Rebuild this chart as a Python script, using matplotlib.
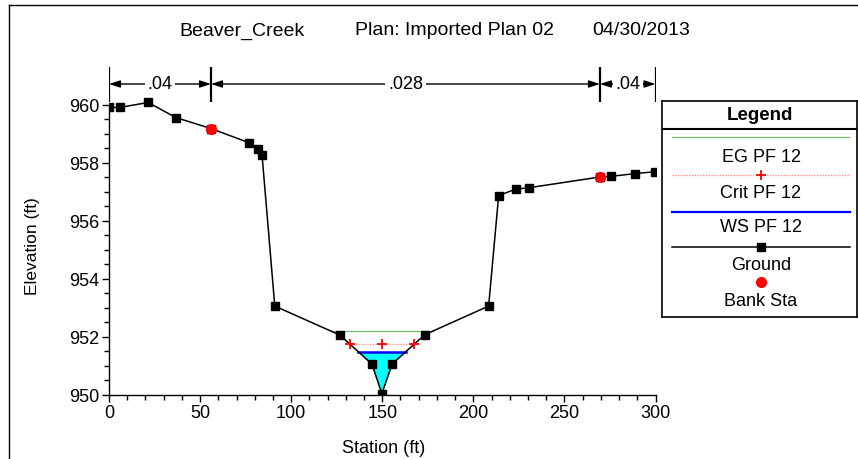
import numpy as np
import matplotlib
matplotlib.use('Agg')
import matplotlib.pyplot as plt
from matplotlib.lines import Line2D
from matplotlib.ticker import MultipleLocator, FixedLocator

plt.rcParams['font.family'] = ['Liberation Sans', 'DejaVu Sans']

# ---------------- data ----------------
station = [0.0, 6.0, 21.5, 36.7, 56.0, 77.0, 81.7, 84.0, 91.0, 126.7, 144.3,
           149.8, 155.4, 173.3, 208.4, 213.9, 223.2, 230.5, 269.5, 275.3,
           289.0, 299.5]
elevation = [959.9, 959.9, 960.07, 959.55, 959.17, 958.68, 958.47, 958.27,
             953.05, 952.05, 951.05, 950.03, 951.05, 952.06, 953.05, 956.86,
             957.08, 957.13, 957.5, 957.52, 957.62, 957.68]
bank_station = [56.0, 269.5]
bank_elev = [959.17, 957.5]
ws_elev = 951.47
crit_elev = 951.73
eg_elev = 952.2
n_bounds = [0.0, 56.0, 269.5, 300.0]
n_values = ['.04', '.028', '.04']
title_parts = ['Beaver_Creek', 'Plan: Imported Plan 02', '04/30/2013']
legend_labels = ['EG PF 12', 'Crit PF 12', 'WS PF 12', 'Ground', 'Bank Sta']

W, H = 858, 460
fig = plt.figure(figsize=(W / 100, H / 100), dpi=100)


def fx(px):
    return px / W


def fy(py):
    return 1 - py / H


ax_l, ax_r, ax_b, ax_t = 109, 655.5, 395.5, 67
ax = fig.add_axes([fx(ax_l), fy(ax_b), (ax_r - ax_l) / W, (ax_b - ax_t) / H])
ax.set_xlim(0, 300)
ax.set_ylim(950, 950 + (ax_b - ax_t) / 29.0)

s = np.array(station)
e = np.array(elevation)


def crossings(level):
    i_min = int(np.argmin(e))
    i = i_min
    while e[i] < level:
        i -= 1
    xl = np.interp(level, [e[i + 1], e[i]], [s[i + 1], s[i]])
    j = i_min
    while e[j] < level:
        j += 1
    xr = np.interp(level, [e[j - 1], e[j]], [s[j - 1], s[j]])
    return xl, xr, s[i_min]


# water fill
ax.fill_between(s, e, ws_elev, where=e <= ws_elev, interpolate=True,
                color='#00FFFF', lw=0, zorder=1)
wl, wr, _ = crossings(ws_elev)
ax.plot([wl, wr], [ws_elev, ws_elev], color='#0000FF', lw=1.8, zorder=2)
cl, cr, cm = crossings(crit_elev)
ax.plot([cl, cm, cr], [crit_elev] * 3, color='#FF9090', lw=1.0,
        ls=(0, (1, 1)), zorder=2)
ax.plot([cl, cm, cr], [crit_elev] * 3, ls='none', marker='+', color='#FF0000',
        ms=7, mew=1.3, zorder=4)
el, er, _ = crossings(eg_elev)
ax.plot([el, er], [eg_elev, eg_elev], color='#00A000', lw=0.9,
        ls=(0, (1, 0.6)), zorder=2)

# ground
ax.plot(s, e, color='black', lw=1.1, marker='s', ms=5.5, zorder=3)
ax.plot(bank_station, bank_elev, ls='none', marker='o', color='#FF0000',
        ms=7, zorder=5)

# Manning's n annotations
y_arrow = 960 + (105.5 - 85) / 29.0
ax.vlines(n_bounds, 960 + (105.5 - 103) / 29.0, 960 + (105.5 - 68) / 29.0,
          color='black', lw=1.6, zorder=6)
for k, lab in enumerate(n_values):
    b0, b1 = n_bounds[k], n_bounds[k + 1]
    ax.annotate('', xy=(b0, y_arrow), xytext=(b1, y_arrow),
                arrowprops=dict(arrowstyle='<|-|>,head_length=0.55,head_width=0.18',
                                color='black', lw=1.0, shrinkA=0, shrinkB=0,
                                mutation_scale=12), zorder=5)
    ax.text((b0 + b1) / 2, y_arrow, lab, ha='center', va='center', fontsize=13,
            bbox=dict(boxstyle='square,pad=0.15', fc='white', ec='none'),
            zorder=7)

# axes styling
for sp in ['top', 'right']:
    ax.spines[sp].set_visible(False)
for sp in ['left', 'bottom']:
    ax.spines[sp].set_linewidth(1.0)
ax.spines['left'].set_bounds(950, 960)
ax.xaxis.set_major_locator(MultipleLocator(50))
ax.xaxis.set_minor_locator(MultipleLocator(10))
ax.yaxis.set_major_locator(FixedLocator(np.arange(950, 961, 2)))
ax.yaxis.set_minor_locator(FixedLocator(np.arange(950, 960.01, 0.5)))
ax.tick_params(which='major', direction='out', length=5, width=1,
               labelsize=13, pad=2)
ax.tick_params(which='minor', direction='out', length=3.5, width=1)
ax.set_xlabel('Station (ft)', fontsize=13)
ax.set_ylabel('Elevation (ft)', fontsize=12.5)
ax.xaxis.label.set(va='center', ha='center')
ax.yaxis.label.set(va='center', ha='center')
ax.xaxis.set_label_coords((384 - ax_l) / (ax_r - ax_l), (ax_b - 449) / (ax_b - ax_t))
ax.yaxis.set_label_coords((33 - ax_l) / (ax_r - ax_l), (ax_b - 246) / (ax_b - ax_t))

# title
title_x = [179, 355, 592]
for tx, tp in zip(title_x, title_parts):
    fig.text(fx(tx), fy(31), tp, ha='left', va='center', fontsize=14)

# legend box
lg = fig.add_axes([fx(662), fy(318), (857 - 662) / W, (318 - 102) / H])
lg.set_xlim(662, 857)
lg.set_ylim(318, 102)
lg.set_xticks([])
lg.set_yticks([])
for sp in lg.spines.values():
    sp.set_linewidth(1.2)
lg.text(760, 115.5, 'Legend', weight='bold', ha='center', va='center', fontsize=13.5)
lg.axhline(129.5, color='black', lw=1.5)
x0, x1, xm = 672, 850, 761
lg.plot([x0, x1], [138.3, 138.3], color='#00A000', lw=0.9, ls=(0, (1, 0.6)))
lg.plot([x0, x1], [176, 176], color='#FF9090', lw=1.0, ls=(0, (1, 1)))
lg.plot([xm], [176], marker='+', color='#FF0000', ms=7, mew=1.3)
lg.plot([x0, x1], [212.7, 212.7], color='#0000FF', lw=1.6)
lg.plot([x0, x1], [247.7, 247.7], color='black', lw=1.1)
lg.plot([xm], [247.7], marker='s', color='black', ms=5.5)
lg.plot([xm], [283.3], marker='o', color='#FF0000', ms=7)
for ty, lab in zip([157.3, 193.3, 227.7, 266, 301.7], legend_labels):
    lg.text(xm, ty, lab, ha='center', va='center', fontsize=13)

# outer frame
fig.add_artist(Line2D([fx(9), fx(9)], [0, fy(6)], transform=fig.transFigure,
                      color='black', lw=1.0))
fig.add_artist(Line2D([fx(9), 1], [fy(6), fy(6)], transform=fig.transFigure,
                      color='black', lw=1.0))

fig.savefig('out.png', dpi=100)
